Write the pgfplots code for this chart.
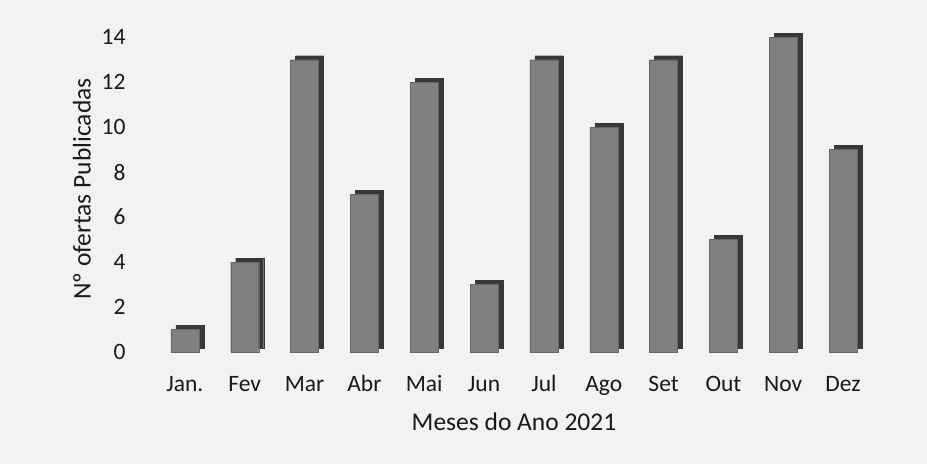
\documentclass[border=0pt]{standalone}
\usepackage{pgfplots}
\pgfplotsset{compat=1.18}
\usepackage{fontspec}
\setmainfont{Carlito}
\definecolor{barfront}{HTML}{808080}
\definecolor{barside}{HTML}{383838}
\definecolor{bg}{HTML}{F2F2F2}
\begin{document}
\begin{tikzpicture}
\fill[bg] (-155pt,-112pt) rectangle (772pt,352pt);
\begin{axis}[
  scale only axis,
  width=718pt, height=326pt,
  xmin=-0.5, xmax=11.5,
  ymin=0, ymax=14.5,
  xtick=data,
  xticklabels={Jan.,Fev,Mar,Abr,Mai,Jun,Jul,Ago,Set,Out,Nov,Dez},
  ytick={0,2,...,14},
  axis line style={draw=none},
  tick style={draw=none},
  /pgf/number format/assume math mode=true,
  ticklabel style={font=\fontsize{23.5}{26}\selectfont, text=black!90},
  xticklabel style={yshift=-21pt, text height=15pt, text depth=4pt},
  yticklabel style={xshift=-26pt},
  xlabel={Meses do Ano 2021},
  ylabel={Nº ofertas Publicadas},
  label style={font=\fontsize{25.5}{28}\selectfont, text=black!90},
  xlabel style={yshift=-10pt},
  ylabel style={yshift=4pt},
  clip=false,
]
\addplot[ybar, bar width=28pt, bar shift=5pt, yshift=4pt, fill=barside, draw=barside] coordinates {
(0,1) (1,4) (2,13) (3,7) (4,12) (5,3) (6,13) (7,10) (8,13) (9,5) (10,14) (11,9)};
\addplot[ybar, bar width=28pt, bar shift=0pt, fill=barfront, draw=black!60] coordinates {
(0,1) (1,4) (2,13) (3,7) (4,12) (5,3) (6,13) (7,10) (8,13) (9,5) (10,14) (11,9)};
\end{axis}
\end{tikzpicture}
\end{document}
